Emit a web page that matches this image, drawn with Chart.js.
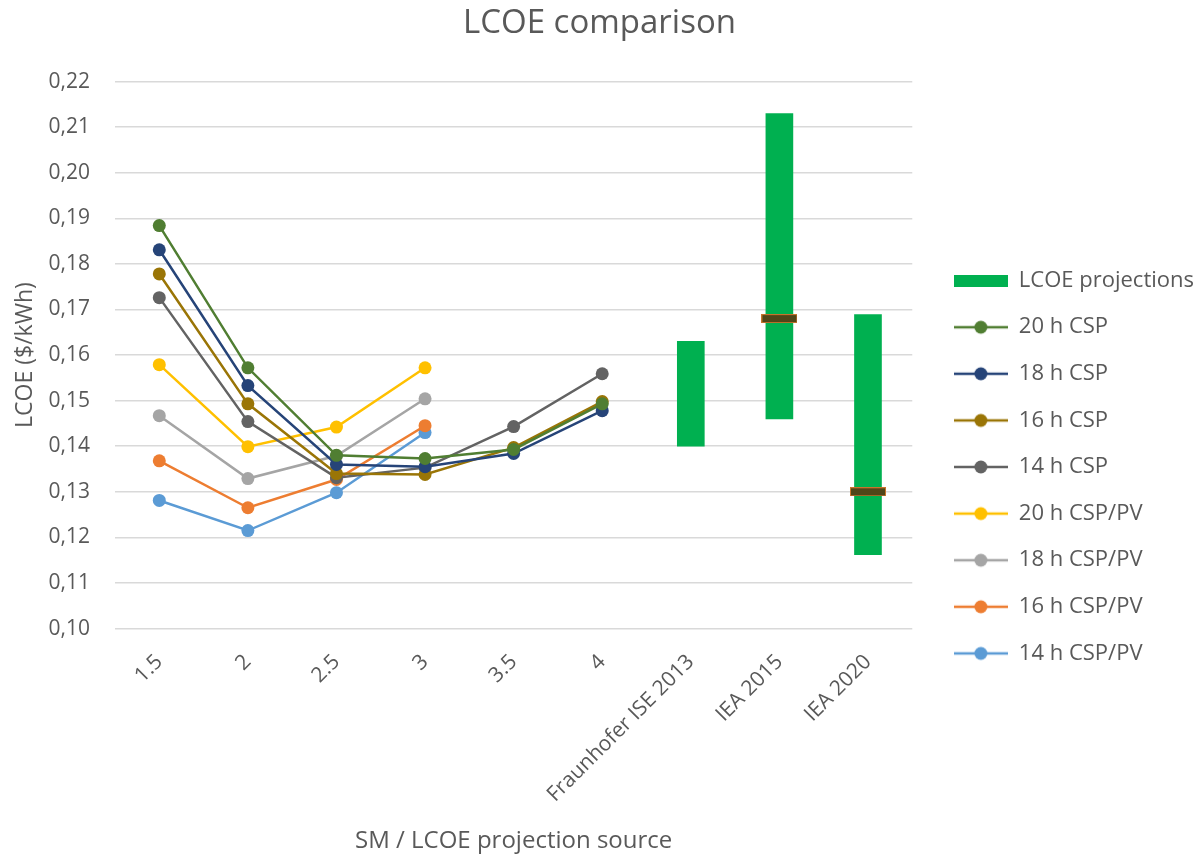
<!DOCTYPE html>
<html>
  <head>
    <title>LCOE comparison</title>
    <meta charset="UTF-8" />
    <style>
      body { margin: 0; background: #fff; }
      #wrap { position: relative; width: 1200px; height: 856px; }
    </style>
  </head>
  <body>
    <div id="wrap"><canvas id="lcoeChart"></canvas></div>
    <script src="https://cdn.jsdelivr.net/npm/chart.js@4.4.1/dist/chart.umd.min.js"></script>
    <script>
      // categories (solar multiple, then projection sources)
      const categories = ["1.5", "2", "2.5", "3", "3.5", "4", "Fraunhofer ISE 2013", "IEA 2015", "IEA 2020"];
      const yTicks = [0.10, 0.11, 0.12, 0.13, 0.14, 0.15, 0.16, 0.17, 0.18, 0.19, 0.20, 0.21, 0.22];

      // LCOE, $/kWh
      const csp20 = [0.1884, 0.1572, 0.1380, 0.1373, 0.1393, 0.1493, null, null, null];
      const csp18 = [0.1831, 0.1533, 0.1360, 0.1355, 0.1384, 0.1478, null, null, null];
      const csp16 = [0.1778, 0.1493, 0.1340, 0.1338, 0.1397, 0.1498, null, null, null];
      const csp14 = [0.1726, 0.1454, 0.1331, 0.1353, 0.1443, 0.1559, null, null, null];
      const cspPv20 = [0.1579, 0.1399, 0.1442, 0.1572, null, null, null, null, null];
      const cspPv18 = [0.1467, 0.1329, 0.1379, 0.1504, null, null, null, null, null];
      const cspPv16 = [0.1368, 0.1265, 0.1327, 0.1445, null, null, null, null, null];
      const cspPv14 = [0.1281, 0.1215, 0.1298, 0.1430, null, null, null, null, null];

      // projection ranges and central values
      const projLow = [null, null, null, null, null, null, 0.1400, 0.1460, 0.1162];
      const projHigh = [null, null, null, null, null, null, 0.1630, 0.2130, 0.1689];
      const projMid = [null, null, null, null, null, null, null, 0.1680, 0.1300];

      const textColor = "#595959";
      const fontFamily = "'Open Sans', sans-serif";

      function makeCanvas(w, h, draw) {
        const c = document.createElement("canvas");
        c.width = w;
        c.height = h;
        draw(c.getContext("2d"));
        return c;
      }

      // little dark dash with orange rim for the central projection value
      const midMark = makeCanvas(36, 9, (ctx) => {
        ctx.fillStyle = "#504619";
        ctx.fillRect(0.5, 0.5, 35, 8);
        ctx.strokeStyle = "#c8742c";
        ctx.lineWidth = 1;
        ctx.strokeRect(0.5, 0.5, 35, 8);
      });

      function lineIcon(color) {
        return makeCanvas(54, 16, (ctx) => {
          ctx.strokeStyle = color;
          ctx.lineWidth = 2.5;
          ctx.beginPath();
          ctx.moveTo(0, 8);
          ctx.lineTo(54, 8);
          ctx.stroke();
          ctx.fillStyle = color;
          ctx.beginPath();
          ctx.arc(27, 8, 6.5, 0, Math.PI * 2);
          ctx.fill();
        });
      }

      const barIcon = makeCanvas(54, 12, (ctx) => {
        ctx.fillStyle = "#00b050";
        ctx.fillRect(0, 0, 54, 12);
      });

      function lineSet(label, values, color) {
        return {
          type: "line",
          label: label,
          data: values,
          borderColor: color,
          backgroundColor: color,
          borderWidth: 2.5,
          pointRadius: 6.5,
          pointHoverRadius: 6.5,
          pointBorderWidth: 0,
          order: 0,
          icon: lineIcon(color)
        };
      }

      // the legend sits a bit further right and lower than Chart.js puts it
      const legendNudge = {
        id: "legendNudge",
        afterLayout(chart) {
          const lg = chart.legend;
          lg.left += 17;
          lg.right += 17;
          lg.top += 38;
          lg.bottom += 38;
        }
      };

      const data = {
        labels: categories,
        datasets: [
          {
            type: "bar",
            label: "LCOE projections",
            data: projLow.map((v, i) => (v === null ? null : [v, projHigh[i]])),
            backgroundColor: "#00b050",
            barThickness: 27,
            grouped: false,
            order: -1,
            icon: barIcon
          },
          lineSet("20 h CSP", csp20, "#507e32"),
          lineSet("18 h CSP", csp18, "#264478"),
          lineSet("16 h CSP", csp16, "#9a7506"),
          lineSet("14 h CSP", csp14, "#636363"),
          lineSet("20 h CSP/PV", cspPv20, "#ffc000"),
          lineSet("18 h CSP/PV", cspPv18, "#a5a5a5"),
          lineSet("16 h CSP/PV", cspPv16, "#ed7d31"),
          lineSet("14 h CSP/PV", cspPv14, "#5b9bd5"),
          {
            type: "line",
            label: "central",
            data: projMid,
            showLine: false,
            pointStyle: midMark,
            pointRadius: 10,
            order: -2
          }
        ]
      };

      const config = {
        data: data,
        plugins: [legendNudge],
        options: {
          responsive: true,
          maintainAspectRatio: false,
          animation: false,
          layout: { padding: { left: 12, right: 13, top: 2, bottom: 0 } },
          plugins: {
            title: {
              display: true,
              text: "LCOE comparison",
              color: textColor,
              font: { family: fontFamily, size: 33, weight: "normal" },
              padding: { top: 2, bottom: 38 }
            },
            legend: {
              position: "right",
              labels: {
                color: textColor,
                font: { family: fontFamily, size: 22 },
                usePointStyle: true,
                pointStyleWidth: 54,
                padding: 24.6,
                filter: (item) => item.text !== "central",
                generateLabels: (chart) => {
                  const items = Chart.defaults.plugins.legend.labels.generateLabels(chart);
                  items.forEach((item) => {
                    item.pointStyle = chart.data.datasets[item.datasetIndex].icon;
                  });
                  return items;
                }
              }
            },
            tooltip: { enabled: false }
          },
          scales: {
            x: {
              grid: { display: false },
              border: { display: false },
              ticks: {
                color: textColor,
                font: { family: fontFamily, size: 21 },
                minRotation: 45,
                maxRotation: 45,
                padding: 13
              },
              title: {
                display: true,
                text: "SM / LCOE projection source",
                color: textColor,
                font: { family: fontFamily, size: 24 },
                padding: { top: 7, bottom: 0 }
              }
            },
            y: {
              min: yTicks[0],
              max: yTicks[yTicks.length - 1],
              afterBuildTicks: (axis) => {
                axis.ticks = yTicks.map((v) => ({ value: v }));
              },
              afterFit: (axis) => {
                axis.width = 103;
              },
              grid: { color: "#d9d9d9", lineWidth: 1.5, drawTicks: false },
              border: { display: false },
              ticks: {
                color: textColor,
                font: { family: fontFamily, size: 21 },
                padding: 25,
                callback: (v) => Number(v).toFixed(2).replace(".", ",")
              },
              title: {
                display: true,
                text: "LCOE ($/kWh)",
                color: textColor,
                font: { family: fontFamily, size: 23 },
                padding: { top: 0, bottom: 6 }
              }
            }
          }
        }
      };

      new Chart(document.getElementById("lcoeChart"), config);
    </script>
  </body>
</html>
